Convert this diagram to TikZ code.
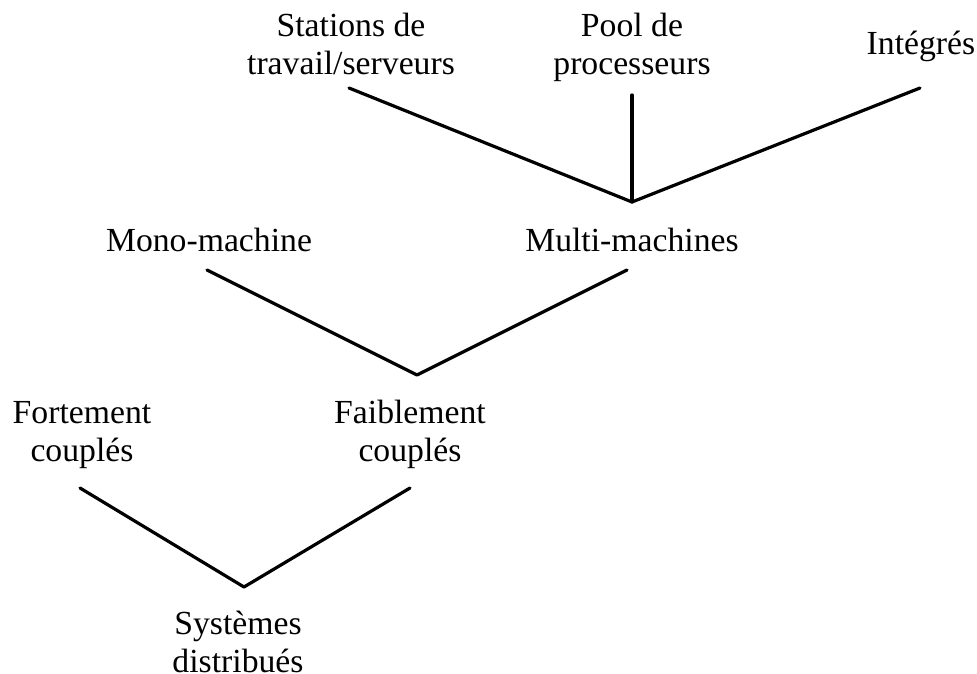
\documentclass[tikz,border=0pt]{standalone}
\usepackage{fontspec}
\setmainfont{Liberation Serif}
\begin{document}
\begin{tikzpicture}[x=1pt,y=1pt,
  label/.style={font=\fontsize{33.7}{38}\selectfont, align=center, inner sep=0pt, anchor=base},
  link/.style={line width=3.2pt, line cap=round, line join=round}]
\useasboundingbox (0,0) rectangle (977,673);

% taxonomy levels, top to bottom (base = baseline of the last line)
\node[label] (st)    at (351,598) {Stations de\\travail/serveurs};
\node[label] (pool)  at (632,598) {Pool de\\processeurs};
\node[label] (int)   at (921,618) {Intégrés};
\node[label] (mono)  at (209,421) {Mono-machine};
\node[label] (multi) at (632,421) {Multi-machines};
\node[label] (fort)  at (82,212)  {Fortement\\couplés};
\node[label] (faib)  at (410,212) {Faiblement\\couplés};
\node[label] (sys)   at (238,1)   {Systèmes\\distribués};

% branch points just above each parent label
\coordinate (j1) at ([yshift=50pt]multi.base);
\coordinate (j2) at ([xshift=7pt,yshift=86pt]faib.base);
\coordinate (j3) at ([xshift=6pt,yshift=85pt]sys.base);

% free ends of the branches, just below each child label
\coordinate (st-e)    at ([xshift=-2pt,yshift=-13pt]st.base);
\coordinate (pool-e)  at ([yshift=-20pt]pool.base);
\coordinate (int-e)   at ([xshift=-1pt,yshift=-33pt]int.base);
\coordinate (mono-e)  at ([xshift=-2pt,yshift=-18pt]mono.base);
\coordinate (multi-e) at ([xshift=-5pt,yshift=-18pt]multi.base);
\coordinate (fort-e)  at ([xshift=-2pt,yshift=-27pt]fort.base);
\coordinate (faib-e)  at ([yshift=-27pt]faib.base);

\draw[link] (st-e) -- (j1) -- (int-e);
\draw[link] (pool-e) -- (j1);
\draw[link] (mono-e) -- (j2) -- (multi-e);
\draw[link] (fort-e) -- (j3) -- (faib-e);
\end{tikzpicture}
\end{document}
